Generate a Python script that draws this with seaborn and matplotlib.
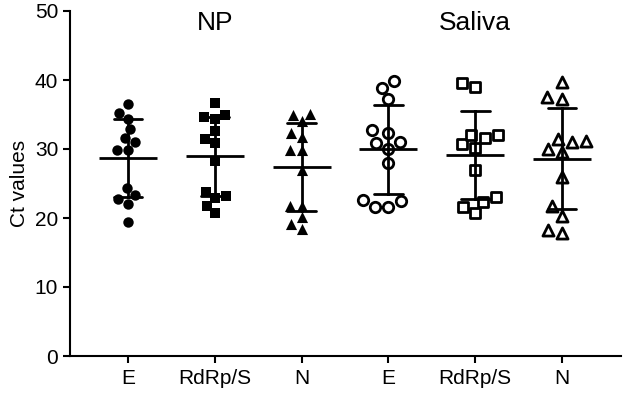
import matplotlib
matplotlib.use("Agg")
import matplotlib.pyplot as plt
import numpy as np
import pandas as pd
import seaborn as sns

# Ct values, one list per sample/target
np_e = [36.5, 35.2, 34.4, 32.9, 31.6, 31.0, 29.8, 29.8, 24.3, 22.8, 23.3, 22.1, 19.4]
np_rdrp = [36.6, 34.9, 34.3, 34.7, 32.6, 31.4, 30.9, 28.3, 23.2, 22.9, 23.7, 21.7, 20.7]
np_n = [35.0, 35.1, 34.0, 31.8, 32.3, 29.8, 29.8, 27.0, 21.8, 21.8, 20.1, 19.1, 18.4]
sal_e = [39.9, 38.9, 37.2, 32.7, 32.3, 31.0, 30.9, 30.0, 27.9, 22.5, 21.6, 21.6, 22.6]
sal_rdrp = [39.0, 39.6, 32.0, 30.7, 30.2, 31.6, 32.1, 26.9, 22.3, 23.0, 21.6, 20.7]
sal_n = [39.7, 37.3, 37.5, 31.2, 30.0, 29.5, 31.0, 31.5, 26.0, 21.8, 20.3, 18.3, 17.8]

conditions = ["NP_E", "NP_RdRp", "NP_N", "Sal_E", "Sal_RdRp", "Sal_N"]
tick_labels = ["E", "RdRp/S", "N", "E", "RdRp/S", "N"]
group_titles = ["NP", "Saliva"]


def build_frame() -> pd.DataFrame:
    series = [np_e, np_rdrp, np_n, sal_e, sal_rdrp, sal_n]
    rows = []
    for cond, vals in zip(conditions, series):
        for v in vals:
            rows.append({"cond": cond, "ct": v})
    return pd.DataFrame(rows)


def draw(df: pd.DataFrame) -> None:
    sns.set_style("ticks")
    plt.rcParams["font.family"] = ["Liberation Sans", "DejaVu Sans"]
    for key in ["text.color", "axes.labelcolor", "xtick.color", "ytick.color"]:
        plt.rcParams[key] = "black"

    fig = plt.figure(figsize=(6.24, 3.93), dpi=100)
    ax = fig.add_axes([70 / 624, 37 / 393, 551 / 624, 345 / 393])

    markers = ["o", "s", "^", "o", "s", "^"]
    for i, cond in enumerate(conditions):
        sub = df[df["cond"] == cond]
        open_marker = i >= 3
        sns.swarmplot(data=sub, x="cond", y="ct", order=conditions, ax=ax,
                      marker=markers[i], size=7.5 if markers[i] != "^" else 8,
                      color="white" if open_marker else "black",
                      edgecolor="black", linewidth=2 if open_marker else 0,
                      zorder=3)

    # mean with SD bars
    sns.pointplot(data=df, x="cond", y="ct", order=conditions, ax=ax,
                  errorbar="sd", capsize=0.33, color="black",
                  marker="_", markersize=42, markeredgewidth=2,
                  linestyle="none", err_kws={"linewidth": 2}, zorder=4)

    ax.set_xlim(-0.67, 5.68)
    ax.set_ylim(0, 50)
    ax.set_yticks(range(0, 51, 10))
    ax.set_xticks(range(len(conditions)))
    ax.set_xticklabels(tick_labels, fontsize=15)
    ax.tick_params(axis="y", labelsize=15, length=5, width=1.5)
    ax.tick_params(axis="x", length=5, width=1.5, pad=4)
    ax.set_xlabel("")
    ax.set_ylabel("Ct values", fontsize=15)
    sns.despine(ax=ax)
    for side in ["left", "bottom"]:
        ax.spines[side].set_linewidth(1.5)
        ax.spines[side].set_color("black")

    ax.text(1, 48.2, group_titles[0], ha="center", va="center", fontsize=19)
    ax.text(4, 48.2, group_titles[1], ha="center", va="center", fontsize=19)

    fig.savefig("out.png", dpi=100)


if __name__ == "__main__":
    draw(build_frame())
